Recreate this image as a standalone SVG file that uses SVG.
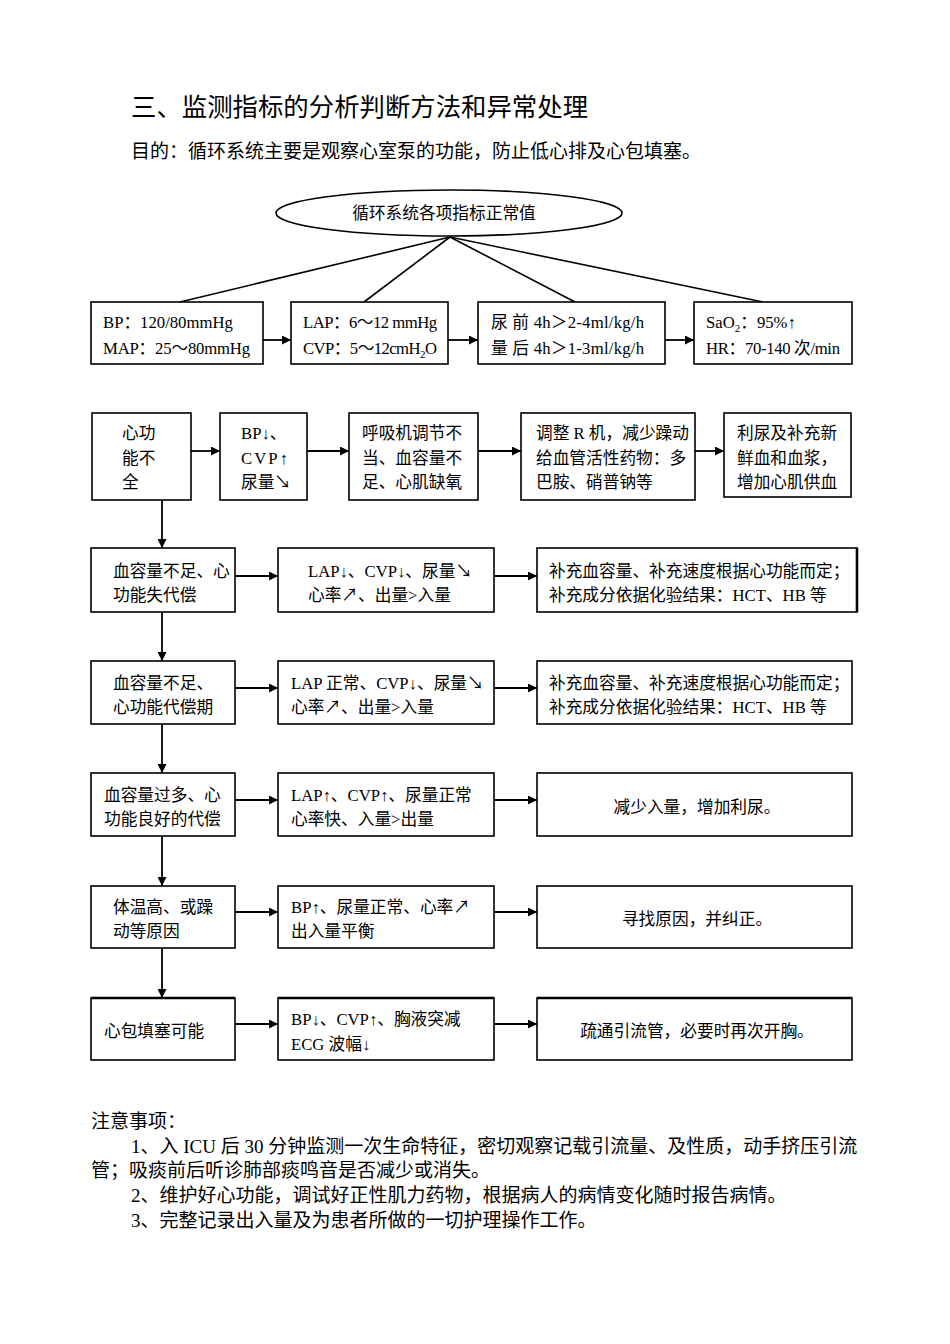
<svg xmlns="http://www.w3.org/2000/svg" width="950" height="1344" viewBox="0 0 950 1344">
<style>
.t{font-family:"Liberation Serif","Noto Sans CJK SC",serif;fill:#000}
.h{font-size:25.4px}
.b{font-size:19px}
.s{font-size:16.7px}
.box{fill:#fff;stroke:#000;stroke-width:1.6}
.ln{fill:none;stroke:#000;stroke-width:1.6}
.ar{fill:none;stroke:#000;stroke-width:1.8;marker-end:url(#ah)}
</style>
<defs>
<marker id="ah" viewBox="0 0 10 10" refX="10" refY="5" markerWidth="10" markerHeight="9" markerUnits="userSpaceOnUse" orient="auto">
<path d="M0,0 L10,5 L0,10 z" fill="#000"/>
</marker>
</defs>
<rect width="950" height="1344" fill="#fff"/>

<g id="header">
<text class="t h" x="131" y="116">三、监测指标的分析判断方法和异常处理</text>
<text class="t b" x="131" y="158">目的：循环系统主要是观察心室泵的功能，防止低心排及心包填塞。</text>
</g>

<g id="connectors">
<line class="ln" x1="450" y1="237" x2="180" y2="302"/>
<line class="ln" x1="450" y1="237" x2="364" y2="302"/>
<line class="ln" x1="450" y1="237" x2="575" y2="302"/>
<line class="ln" x1="450" y1="237" x2="763" y2="302"/>
<line class="ar" x1="263" y1="340" x2="291" y2="340"/>
<line class="ar" x1="448" y1="340" x2="478" y2="340"/>
<line class="ar" x1="665" y1="340" x2="694" y2="340"/>
<line class="ar" x1="191" y1="451" x2="220" y2="451"/>
<line class="ar" x1="307" y1="451" x2="349" y2="451"/>
<line class="ar" x1="478" y1="451" x2="521" y2="451"/>
<line class="ar" x1="695" y1="451" x2="724" y2="451"/>
<line class="ar" x1="162" y1="500" x2="162" y2="548"/>
<line class="ar" x1="162" y1="612" x2="162" y2="661"/>
<line class="ar" x1="162" y1="724" x2="162" y2="773"/>
<line class="ar" x1="162" y1="836" x2="162" y2="886"/>
<line class="ar" x1="162" y1="948" x2="162" y2="998"/>
<line class="ar" x1="235" y1="576" x2="278" y2="576"/>
<line class="ar" x1="494" y1="576" x2="537" y2="576"/>
<line class="ar" x1="235" y1="688" x2="278" y2="688"/>
<line class="ar" x1="494" y1="688" x2="537" y2="688"/>
<line class="ar" x1="235" y1="800" x2="278" y2="800"/>
<line class="ar" x1="494" y1="800" x2="537" y2="800"/>
<line class="ar" x1="235" y1="912" x2="278" y2="912"/>
<line class="ar" x1="494" y1="912" x2="537" y2="912"/>
<line class="ar" x1="235" y1="1024" x2="278" y2="1024"/>
<line class="ar" x1="494" y1="1024" x2="537" y2="1024"/>
</g>

<g id="root">
<ellipse cx="449" cy="213" rx="173" ry="23" fill="#fff" stroke="#000" stroke-width="1.6"/>
<text class="t s" x="444" y="219" text-anchor="middle">循环系统各项指标正常值</text>
</g>

<g id="n-bp">
<rect class="box" x="91" y="302" width="172" height="62"/>
<text class="t s" x="103" y="328">BP：120/80mmHg</text>
<text class="t s" x="103" y="354" textLength="147">MAP：25～80mmHg</text>
</g>
<g id="n-lap">
<rect class="box" x="291" y="302" width="157" height="62"/>
<text class="t s" x="303" y="328" textLength="134">LAP：6～12 mmHg</text>
<text class="t s" x="303" y="354" textLength="134">CVP：5～12cmH<tspan font-size="11" dy="4">2</tspan><tspan dy="-4">O</tspan></text>
</g>
<g id="n-urine">
<rect class="box" x="478" y="302" width="187" height="62"/>
<text class="t s" x="491" y="328" textLength="153">尿 前 4h＞2-4ml/kg/h</text>
<text class="t s" x="491" y="354" textLength="153">量 后 4h＞1-3ml/kg/h</text>
</g>
<g id="n-sao2">
<rect class="box" x="694" y="302" width="158" height="62"/>
<text class="t s" x="706" y="328">SaO<tspan font-size="11" dy="4">2</tspan><tspan dy="-4">：95%↑</tspan></text>
<text class="t s" x="706" y="354" textLength="134">HR：70-140 次/min</text>
</g>

<g id="r1-a">
<rect class="box" x="92" y="413" width="99" height="87"/>
<text class="t s" x="122" y="439">心功</text>
<text class="t s" x="122" y="464">能不</text>
<text class="t s" x="122" y="488">全</text>
</g>
<g id="r1-b">
<rect class="box" x="220" y="413" width="87" height="87"/>
<text class="t s" x="241" y="439">BP↓、</text>
<text class="t s" x="241" y="464" letter-spacing="2">CVP↑</text>
<text class="t s" x="241" y="488">尿量↘</text>
</g>
<g id="r1-c">
<rect class="box" x="349" y="413" width="129" height="87"/>
<text class="t s" x="362" y="439">呼吸机调节不</text>
<text class="t s" x="362" y="464">当、血容量不</text>
<text class="t s" x="362" y="488">足、心肌缺氧</text>
</g>
<g id="r1-d">
<rect class="box" x="521" y="413" width="174" height="87"/>
<text class="t s" x="536" y="439">调整 R 机，减少躁动</text>
<text class="t s" x="536" y="464">给血管活性药物：多</text>
<text class="t s" x="536" y="488">巴胺、硝普钠等</text>
</g>
<g id="r1-e">
<rect class="box" x="724" y="413" width="127" height="84"/>
<text class="t s" x="737" y="439">利尿及补充新</text>
<text class="t s" x="737" y="464">鲜血和血浆，</text>
<text class="t s" x="737" y="488">增加心肌供血</text>
</g>

<g id="r2-a">
<rect class="box" x="91" y="548" width="144" height="64"/>
<text class="t s" x="113" y="577">血容量不足、心</text>
<text class="t s" x="113" y="601">功能失代偿</text>
</g>
<g id="r2-b">
<rect class="box" x="278" y="548" width="216" height="64"/>
<text class="t s" x="308" y="577">LAP↓、CVP↓、尿量↘</text>
<text class="t s" x="308" y="601">心率↗、出量&gt;入量</text>
</g>
<g id="r2-c">
<rect class="box" x="537" y="548" width="320" height="64"/>
<line x1="857" y1="548" x2="857" y2="612" stroke="#000" stroke-width="2.6"/>
<text class="t s" x="549" y="577">补充血容量、补充速度根据心功能而定；</text>
<text class="t s" x="549" y="601">补充成分依据化验结果：HCT、HB 等</text>
</g>

<g id="r3-a">
<rect class="box" x="91" y="661" width="144" height="63"/>
<text class="t s" x="113" y="689">血容量不足、</text>
<text class="t s" x="113" y="713">心功能代偿期</text>
</g>
<g id="r3-b">
<rect class="box" x="278" y="661" width="216" height="63"/>
<text class="t s" x="291" y="689">LAP 正常、CVP↓、尿量↘</text>
<text class="t s" x="291" y="713">心率↗、出量&gt;入量</text>
</g>
<g id="r3-c">
<rect class="box" x="537" y="661" width="315" height="63"/>
<text class="t s" x="549" y="689">补充血容量、补充速度根据心功能而定；</text>
<text class="t s" x="549" y="713">补充成分依据化验结果：HCT、HB 等</text>
</g>

<g id="r4-a">
<rect class="box" x="91" y="773" width="144" height="63"/>
<text class="t s" x="104" y="801">血容量过多、心</text>
<text class="t s" x="104" y="825">功能良好的代偿</text>
</g>
<g id="r4-b">
<rect class="box" x="278" y="773" width="216" height="63"/>
<text class="t s" x="291" y="801">LAP↑、CVP↑、尿量正常</text>
<text class="t s" x="291" y="825">心率快、入量&gt;出量</text>
</g>
<g id="r4-c">
<rect class="box" x="537" y="773" width="315" height="63"/>
<text class="t s" x="697" y="813" text-anchor="middle">减少入量，增加利尿。</text>
</g>

<g id="r5-a">
<rect class="box" x="91" y="886" width="144" height="62"/>
<text class="t s" x="113" y="913">体温高、或躁</text>
<text class="t s" x="113" y="937">动等原因</text>
</g>
<g id="r5-b">
<rect class="box" x="278" y="886" width="216" height="62"/>
<text class="t s" x="291" y="913">BP↑、尿量正常、心率↗</text>
<text class="t s" x="291" y="937">出入量平衡</text>
</g>
<g id="r5-c">
<rect class="box" x="537" y="886" width="315" height="62"/>
<text class="t s" x="697" y="925" text-anchor="middle">寻找原因，并纠正。</text>
</g>

<g id="r6-a">
<rect class="box" x="91" y="998" width="144" height="62"/>
<line x1="91" y1="998" x2="235" y2="998" stroke="#000" stroke-width="2.6"/>
<text class="t s" x="104" y="1037">心包填塞可能</text>
</g>
<g id="r6-b">
<rect class="box" x="278" y="998" width="216" height="62"/>
<line x1="278" y1="998" x2="494" y2="998" stroke="#000" stroke-width="2.6"/>
<text class="t s" x="291" y="1025">BP↓、CVP↑、胸液突减</text>
<text class="t s" x="291" y="1050">ECG 波幅↓</text>
</g>
<g id="r6-c">
<rect class="box" x="537" y="998" width="315" height="62"/>
<line x1="537" y1="998" x2="852" y2="998" stroke="#000" stroke-width="2.6"/>
<text class="t s" x="697" y="1037" text-anchor="middle">疏通引流管，必要时再次开胸。</text>
</g>

<g id="notes">
<text class="t b" x="91" y="1128">注意事项：</text>
<text class="t b" x="131" y="1153">1、入 ICU 后 30 分钟监测一次生命特征，密切观察记载引流量、及性质，动手挤压引流</text>
<text class="t b" x="91" y="1177">管；吸痰前后听诊肺部痰鸣音是否减少或消失。</text>
<text class="t b" x="131" y="1202">2、维护好心功能，调试好正性肌力药物，根据病人的病情变化随时报告病情。</text>
<text class="t b" x="131" y="1227">3、完整记录出入量及为患者所做的一切护理操作工作。</text>
</g>
</svg>
